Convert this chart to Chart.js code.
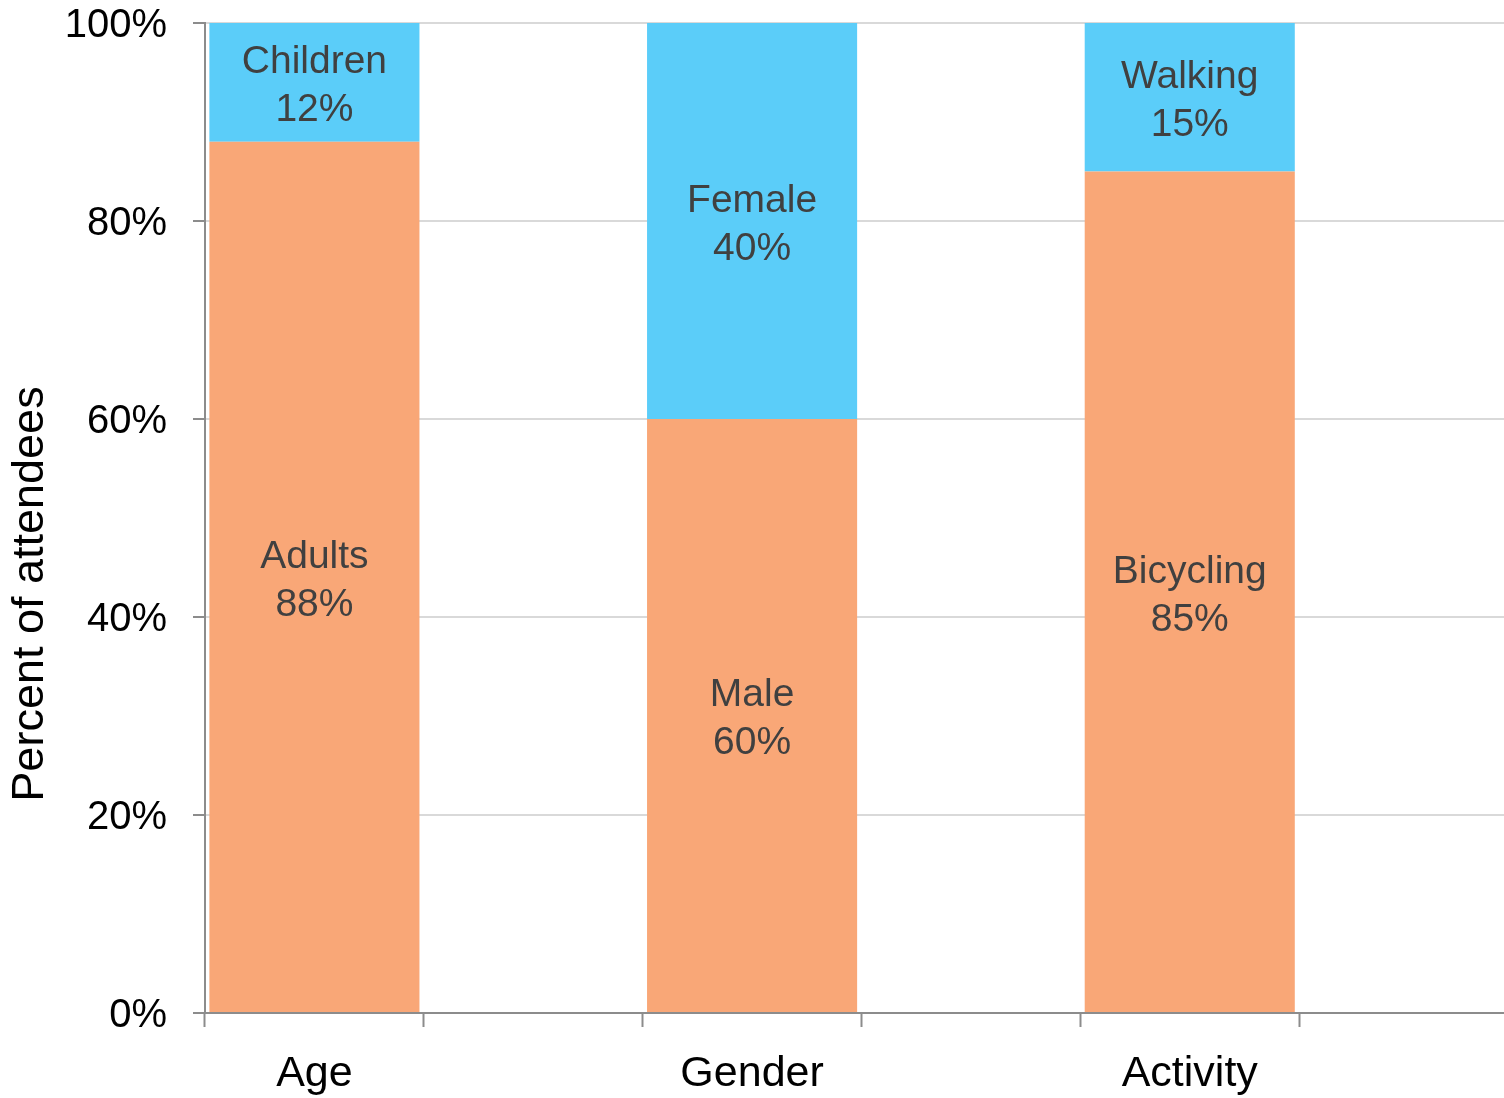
<!DOCTYPE html>
<html>
<head>
<meta charset="utf-8">
<title>Percent of attendees</title>
<script src="https://cdn.jsdelivr.net/npm/chart.js@4/dist/chart.umd.min.js"></script>
<style>
  html, body { margin: 0; padding: 0; overflow: hidden; background: #ffffff; }
  canvas { display: block; }
</style>
</head>
<body>
<canvas id="chart" width="1518" height="1098"></canvas>
<script>
// Groups shown on the x axis
const groups = ['Age', 'Gender', 'Activity'];

// Lower (orange) segment of each bar
const lowerNames = ['Adults', 'Male', 'Bicycling'];
const lowerValues = [88, 60, 85];

// Upper (blue) segment of each bar
const upperNames = ['Children', 'Female', 'Walking'];
const upperValues = [12, 40, 15];

// Value axis ticks
const yTicks = [0, 20, 40, 60, 80, 100];

// Every group is followed by an empty slot on the category axis
const slotLabels = groups.flatMap(g => [g, '']);
const spread = arr => arr.flatMap(v => [v, null]);

const FONT = 'Liberation Sans';

// Two-line caption (name + percent) centred inside every segment
const segmentCaptions = {
  id: 'segmentCaptions',
  afterDatasetsDraw(chart) {
    const ctx = chart.ctx;
    ctx.save();
    ctx.font = '39px "' + FONT + '"';
    ctx.fillStyle = '#404040';
    ctx.textAlign = 'center';
    ctx.textBaseline = 'middle';
    chart.data.datasets.forEach((ds, di) => {
      chart.getDatasetMeta(di).data.forEach((bar, i) => {
        const v = ds.data[i];
        if (v == null) return;
        const cy = (bar.y + bar.base) / 2;
        ctx.fillText(ds.names[i], bar.x, cy - 20);
        ctx.fillText(v + '%', bar.x, cy + 28);
      });
    });
    ctx.restore();
  }
};

// Rotated value-axis title
const valueAxisTitle = {
  id: 'valueAxisTitle',
  afterDraw(chart) {
    const ctx = chart.ctx;
    ctx.save();
    ctx.translate(43, 594);
    ctx.rotate(-Math.PI / 2);
    ctx.font = '45px "' + FONT + '"';
    ctx.fillStyle = '#000000';
    ctx.textAlign = 'center';
    ctx.textBaseline = 'alphabetic';
    ctx.fillText('Percent of attendees', 0, 0);
    ctx.restore();
  }
};

const axisGray = '#8c8c8c';

new Chart(document.getElementById('chart'), {
  type: 'bar',
  data: {
    labels: slotLabels,
    datasets: [
      {
        label: 'Lower',
        names: spread(lowerNames),
        data: spread(lowerValues),
        backgroundColor: '#F9A777',
        borderWidth: 0,
        categoryPercentage: 1,
        barPercentage: 0.96
      },
      {
        label: 'Upper',
        names: spread(upperNames),
        data: spread(upperValues),
        backgroundColor: '#5BCDF9',
        borderWidth: 0,
        categoryPercentage: 1,
        barPercentage: 0.96
      }
    ]
  },
  options: {
    responsive: false,
    animation: false,
    layout: { padding: 0 },
    plugins: {
      legend: { display: false },
      tooltip: { enabled: false }
    },
    scales: {
      x: {
        type: 'category',
        stacked: true,
        offset: true,
        grid: {
          offset: true,
          drawOnChartArea: false,
          drawTicks: true,
          tickLength: 14,
          tickColor: axisGray,
          tickWidth: 2
        },
        border: { color: axisGray, width: 2 },
        ticks: {
          color: '#000000',
          font: { family: FONT, size: 43, lineHeight: 1.2 },
          padding: 21,
          maxRotation: 0,
          autoSkip: false
        },
        afterFit(scale) { scale.height = 85; scale.paddingLeft = 0; scale.paddingRight = 0; }
      },
      y: {
        stacked: true,
        min: 0,
        max: 100,
        afterBuildTicks(scale) { scale.ticks = yTicks.map(v => ({ value: v })); },
        grid: {
          color: '#d9d9d9',
          lineWidth: 2,
          tickLength: 12,
          tickColor: axisGray,
          tickWidth: 2
        },
        border: { color: axisGray, width: 2 },
        ticks: {
          color: '#000000',
          font: { family: FONT, size: 40, lineHeight: 1 },
          padding: 26,
          labelOffset: 3,
          callback: v => v + '%'
        },
        afterFit(scale) { scale.width = 205; scale.paddingTop = 23; scale.paddingBottom = 0; }
      }
    }
  },
  plugins: [segmentCaptions, valueAxisTitle]
});
</script>
</body>
</html>
